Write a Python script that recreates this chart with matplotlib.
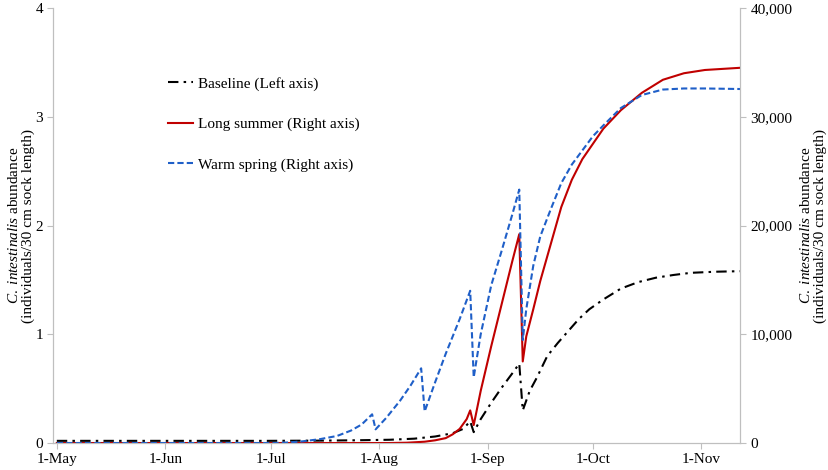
import matplotlib
matplotlib.use("Agg")
import matplotlib.pyplot as plt
from matplotlib.ticker import FuncFormatter

plt.rcParams['font.family'] = ['Liberation Serif', 'DejaVu Serif']
plt.rcParams['mathtext.fontset'] = 'custom'
plt.rcParams['mathtext.rm'] = 'Liberation Serif'
plt.rcParams['mathtext.it'] = 'Liberation Serif:italic'

# days counted from 1-May
month_days = [0, 31, 61, 92, 123, 153, 184]
month_labels = ['1-May', '1-Jun', '1-Jul', '1-Aug', '1-Sep', '1-Oct', '1-Nov']

# Baseline (left axis)
baseline_days = [0, 30, 60, 75, 85, 95, 102, 108, 113, 116, 118, 119, 121, 124, 127, 130, 132, 133,
                 135, 137, 140, 143, 146, 149, 152, 156, 161, 166, 171, 176, 181, 188, 195]
baseline = [0.02, 0.02, 0.02, 0.022, 0.025, 0.03, 0.04, 0.06, 0.09, 0.13, 0.20, 0.10, 0.22, 0.37, 0.51,
            0.64, 0.73, 0.30, 0.48, 0.60, 0.80, 0.92, 1.03, 1.14, 1.23, 1.32, 1.42, 1.48, 1.52, 1.545,
            1.565, 1.575, 1.58]

# Long summer (right axis)
long_days = [0, 95, 100, 105, 108, 111, 113, 115, 117, 118, 119, 121, 124, 127, 130, 132, 133, 134,
             136, 138, 141, 144, 147, 150, 153, 156, 161, 167, 173, 179, 185, 195]
long_summer = [0, 0, 30, 120, 250, 450, 800, 1300, 2200, 3000, 1650, 4800, 8900, 12800, 16700, 19200,
               7500, 9800, 12300, 14900, 18300, 21700, 24200, 26100, 27500, 28900, 30600, 32200, 33400,
               34000, 34300, 34500]

# Warm spring (right axis)
warm_days = [0, 62, 66, 70, 75, 80, 84, 87, 90, 91, 94, 98, 101, 104, 105, 108, 111, 115, 118, 119,
             121, 124, 127, 130, 132, 133, 134, 136, 138, 141, 144, 147, 150, 153, 156, 161, 167, 173,
             179, 185, 195]
warm_spring = [0, 0, 50, 150, 350, 650, 1150, 1700, 2640, 1260, 2300, 3900, 5300, 6870, 2900, 5600,
               8200, 11400, 14000, 6040, 10000, 14500, 17700, 21000, 23300, 9470, 12300, 16300, 19000,
               21500, 23900, 25600, 26900, 28200, 29200, 30800, 32000, 32500, 32600, 32600, 32550]

fig, ax = plt.subplots(figsize=(8.29, 4.70), dpi=100)
fig.subplots_adjust(left=0.0643, right=0.8926, top=0.983, bottom=0.0574)
ax2 = ax.twinx()

l1, = ax.plot(baseline_days, baseline, color='black', lw=1.5,
              linestyle=(0, (5, 2.5, 1.2, 2.5)), label='Baseline (Left axis)')
l2, = ax2.plot(long_days, long_summer, color='#c00000', lw=1.5, label='Long summer (Right axis)')
l3, = ax2.plot(warm_days, warm_spring, color='#1f5fc8', lw=1.5,
               linestyle=(0, (3, 1.5)), label='Warm spring (Right axis)')

ax.set_xlim(-1, 195)
ax.set_ylim(0, 4)
ax2.set_ylim(0, 40000)
ax.set_yticks([0, 1, 2, 3, 4])
ax2.set_yticks([0, 10000, 20000, 30000, 40000])
ax2.yaxis.set_major_formatter(FuncFormatter(lambda v, p: f'{int(v):,}'))
ax.set_xticks(month_days)
ax.set_xticklabels(month_labels)

for a in (ax, ax2):
    for s in a.spines.values():
        s.set_color('#bfbfbf')
    a.spines['top'].set_visible(False)
    a.tick_params(colors='#bfbfbf', labelcolor='black', labelsize=11, length=4)

label = '$\\mathit{C.\\ intestinalis}$ abundance\n(individuals/30 cm sock length)'
ax.set_ylabel(label, fontsize=11, labelpad=0, linespacing=1.1)
ax2.set_ylabel(label, fontsize=11, labelpad=5, linespacing=1.0)

fig.legend(handles=[l1, l2, l3], loc='upper left', bbox_to_anchor=(0.203, 0.837),
           frameon=False, fontsize=11, labelspacing=1.75, handlelength=1.6,
           handletextpad=0.35, borderpad=0, borderaxespad=0)

fig.savefig('out.png', dpi=100)
